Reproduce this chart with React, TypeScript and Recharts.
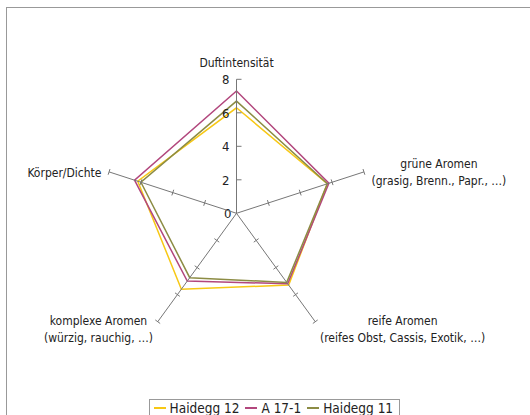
import { Legend, PolarAngleAxis, PolarRadiusAxis, Radar, RadarChart } from "recharts";

const categories = [
    'Duftintensität',
    'grüne Aromen\n(grasig, Brenn., Papr., …)',
    'reife Aromen\n(reifes Obst, Cassis, Exotik, …)',
    'komplexe Aromen\n(würzig, rauchig, …)',
    'Körper/Dichte',
];
const seriesNames = ['Haidegg 12', 'A 17-1', 'Haidegg 11'];
const haidegg12 = [6.3, 5.7, 5.3, 5.6, 6.2];
const a171 = [7.3, 5.8, 5.2, 5.0, 6.4];
const haidegg11 = [6.7, 5.7, 5.1, 4.75, 6.0];
const radiusTicks = [0, 2, 4, 6, 8];

const data = categories.map((axis, i) => ({
    axis,
    h12: haidegg12[i],
    a17: a171[i],
    h11: haidegg11[i],
}));

const colors: Record<string, string> = {
    'Haidegg 12': '#F7C815',
    'A 17-1': '#B2477D',
    'Haidegg 11': '#8C8C44',
};

const font = '"DejaVu Sans Condensed", "DejaVu Sans", sans-serif';
const axisAngles = [90, 18, -54, -126, 162];

// small cross ticks on each spoke, numbers only on the top one
const makeSpokeTick = (angle: number, withLabel: boolean) => (props: any) => {
    const { x, y, payload } = props;
    if (payload.value === 0) {
        return withLabel ? (
            <text x={x - 5} y={y + 5} textAnchor="end" fontSize={13} fontFamily={font} fill="#222">0</text>
        ) : <g />;
    }
    const rad = (angle * Math.PI) / 180;
    const dx = Math.sin(rad) * 3;
    const dy = Math.cos(rad) * 3;
    return (
        <g>
            {withLabel
                ? <line x1={x} y1={y} x2={x + 5} y2={y} stroke="#777" />
                : <line x1={x - dx} y1={y - dy} x2={x + dx} y2={y + dy} stroke="#777" />}
            {withLabel && (
                <text x={x - 7} y={y + 5} textAnchor="end" fontSize={13} fontFamily={font} fill="#222">
                    {payload.value}
                </text>
            )}
        </g>
    );
};

const renderAngleTick = (props: any) => {
    const { x, y, payload, textAnchor } = props;
    const lines = String(payload.value).split('\n');
    const style = { fontSize: 12, fontFamily: font, fill: '#222' };
    if (lines.length === 1) {
        if (textAnchor === 'middle') {
            return <text x={x} y={y - 4} textAnchor="middle" {...style}>{lines[0]}</text>;
        }
        return <text x={x} y={y + 8} textAnchor={textAnchor} {...style}>{lines[0]}</text>;
    }
    // two-line labels: block hugs the spoke end, lines centred inside the block
    const w = 220;
    const top = (y > 250 ? y - 2 : y) - 13.5;
    return (
        <foreignObject x={textAnchor === 'start' ? x : x - w} y={top} width={w} height={40}>
            <div style={{ display: 'flex', justifyContent: textAnchor === 'start' ? 'flex-start' : 'flex-end' }}>
                <div style={{ textAlign: 'center', fontFamily: font, fontSize: 12, lineHeight: '17.5px', color: '#222', whiteSpace: 'nowrap' }}>
                    {lines.map((l, i) => <div key={i}>{l}</div>)}
                </div>
            </div>
        </foreignObject>
    );
};

const renderLegend = (props: any) => {
    const payload = [...(props.payload || [])].sort(
        (a: any, b: any) => seriesNames.indexOf(a.value) - seriesNames.indexOf(b.value)
    );
    return (
        <div style={{ border: '1px solid #999', display: 'inline-flex', alignItems: 'center', padding: '0 0 9px 4px', background: '#fff', whiteSpace: 'nowrap' }}>
            {payload.map((p: any) => (
                <div key={p.value} style={{ display: 'flex', alignItems: 'center', marginRight: 6, flexShrink: 0 }}>
                    <span style={{ display: 'inline-block', width: 12, height: 2, background: colors[p.value], marginRight: 4 }} />
                    <span style={{ fontFamily: font, fontSize: 13.5, color: '#222' }}>{p.value}</span>
                </div>
            ))}
        </div>
    );
};

export default function App() {
    return (
        <div style={{ position: 'absolute', left: 6, top: 7, width: 600, height: 480, border: '1px solid #999', background: '#fff' }}>
            <RadarChart width={520} height={440} data={data} cx={229.5} cy={205.3} outerRadius={134}>
                <PolarAngleAxis dataKey="axis" tick={renderAngleTick} tickLine={false} axisLine={false} />
                {axisAngles.map((angle, i) => (
                    <PolarRadiusAxis
                        key={i}
                        radiusAxisId={i}
                        angle={angle}
                        type="number"
                        domain={[0, 8]}
                        allowDataOverflow
                        ticks={radiusTicks}
                        tickCount={5}
                        axisLine={{ stroke: '#777' }}
                        tick={makeSpokeTick(angle, i === 0)}
                    />
                ))}
                <Radar name={seriesNames[0]} dataKey="h12" stroke={colors[seriesNames[0]]} strokeWidth={1.5} fill="none" fillOpacity={0} dot={false} isAnimationActive={false} />
                <Radar name={seriesNames[1]} dataKey="a17" stroke={colors[seriesNames[1]]} strokeWidth={1.5} fill="none" fillOpacity={0} dot={false} isAnimationActive={false} />
                <Radar name={seriesNames[2]} dataKey="h11" stroke={colors[seriesNames[2]]} strokeWidth={1.5} fill="none" fillOpacity={0} dot={false} isAnimationActive={false} />
                <Legend content={renderLegend} wrapperStyle={{ left: 141.6, top: 387, width: 'auto', bottom: 'auto' }} />
            </RadarChart>
        </div>
    );
}
